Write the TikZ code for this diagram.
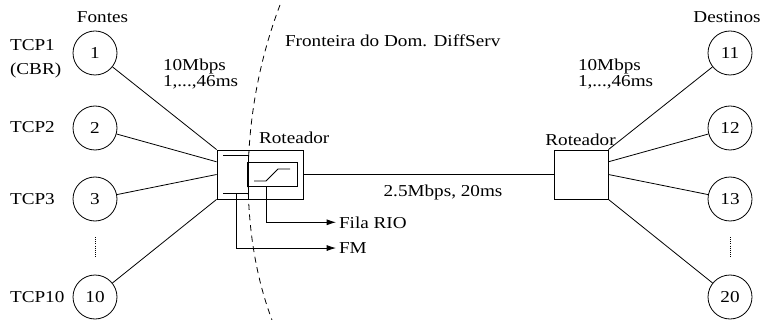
\documentclass[tikz,border=0pt]{standalone}
\usepackage{fontspec}
\setmainfont[FakeStretch=1.15]{Liberation Serif}
\usetikzlibrary{arrows.meta,calc}

\begin{document}
\begin{tikzpicture}[
  x=0.75pt, y=-0.75pt, line width=0.6pt,
  font=\fontsize{12.5}{12}\selectfont,
  host/.style={circle, draw, minimum size=33pt, inner sep=0pt},
  rbox/.style={draw, rectangle, inner sep=0pt},
  lbl/.style={inner sep=2pt},
  sig/.style={-{Latex[length=7pt,width=4.5pt]}},
  fronteira/.style={dash pattern=on 4.5pt off 3.5pt},
  vdots/.style={dash pattern=on 0.8pt off 0.8pt}
]
  \useasboundingbox (0,0) rectangle (762,320);

  % === FONTES ===
  \node[lbl, anchor=base] (fontes) at (102.5,22.5) {Fontes};
  \node[host] (h1) at (95,53) {1};
  \node[host] (h2) at (95,128) {2};
  \node[host] (h3) at (95,199) {3};
  \node[host] (h10) at (95,297) {10};
  \draw[vdots] (95,237) -- (95,258);

  \node[lbl, anchor=base west] (tcp1) at (7,50.5) {TCP1};
  \node[lbl, anchor=base west] (cbr) at (7,75) {(CBR)};
  \node[lbl, anchor=base west] (tcp2) at (7,133) {TCP2};
  \node[lbl, anchor=base west] (tcp3) at (7,204.5) {TCP3};
  \node[lbl, anchor=base west] (tcp10) at (7,302.5) {TCP10};

  % === DESTINOS ===
  \node[lbl, anchor=base] (destinos) at (727,22.5) {Destinos};
  \node[host] (h11) at (730,53) {11};
  \node[host] (h12) at (730,128) {12};
  \node[host] (h13) at (730,199) {13};
  \node[host] (h20) at (730,297) {20};
  \draw[vdots] (730,237) -- (730,258);

  % === ROTEADOR DE BORDA ===
  \node[rbox, minimum width=64.5pt, minimum height=36.75pt] (rl) at (260,174.5) {};
  \node[rbox, minimum width=37.5pt, minimum height=18pt] (rio) at (272,174) {};
  \node[lbl, anchor=base west] (rotl) at (256,143.5) {Roteador};
  % classificador
  \draw (223,155) -- (248,155) -- (248,193) -- (223,193);
  % fila RIO
  \draw (254,181) -- (266,181) -- (278,169) -- (290,169);

  \node[lbl, anchor=base west] (fila) at (336,228) {Fila RIO};
  \node[lbl, anchor=base west] (fm) at (336,253.5) {FM};
  \coordinate (riotap) at ($(rio.south)+(-6,0)$);
  \coordinate (fmtap) at (236,193);
  \draw[sig] (riotap) |- (fila.west);
  \draw[sig] (fmtap) |- (fm.west);

  % === ROTEADOR DO NUCLEO ===
  \node[rbox, minimum width=40.5pt, minimum height=36.75pt] (rr) at (581,174.5) {};
  \node[lbl, anchor=base] (rotr) at (580.5,146) {Roteador};

  % Enlaces de acesso
  \draw (h1) -- (rl.north west);
  \draw (h2) -- ($(rl.north west)!0.245!(rl.south west)$);
  \draw (h3) -- (rl.west);
  \draw (h10) -- (rl.south west);
  \draw (rr.north east) -- (h11);
  \draw ($(rr.north east)!0.245!(rr.south east)$) -- (h12);
  \draw (rr.east) -- (h13);
  \draw (rr.south east) -- (h20);

  \node[lbl, anchor=base west] (bwl) at (160,71) {10Mbps};
  \node[lbl, anchor=base west] (dll) at (160,87) {1,...,46ms};
  \node[lbl, anchor=base west] (bwr) at (575,71) {10Mbps};
  \node[lbl, anchor=base west] (dlr) at (575,87) {1,...,46ms};

  % Enlace gargalo
  \draw (rl.east) -- (rr.west);
  \node[lbl, anchor=base] (core) at (443,196) {2.5Mbps, 20ms};

  % Fronteira do dominio
  \draw[fronteira] (280,5) .. controls (240,110) and (238,230) .. (272,320);
  \node[lbl, anchor=base west] (front) at (282,47) {Fronteira do Dom. DiffServ};
\end{tikzpicture}
\end{document}
